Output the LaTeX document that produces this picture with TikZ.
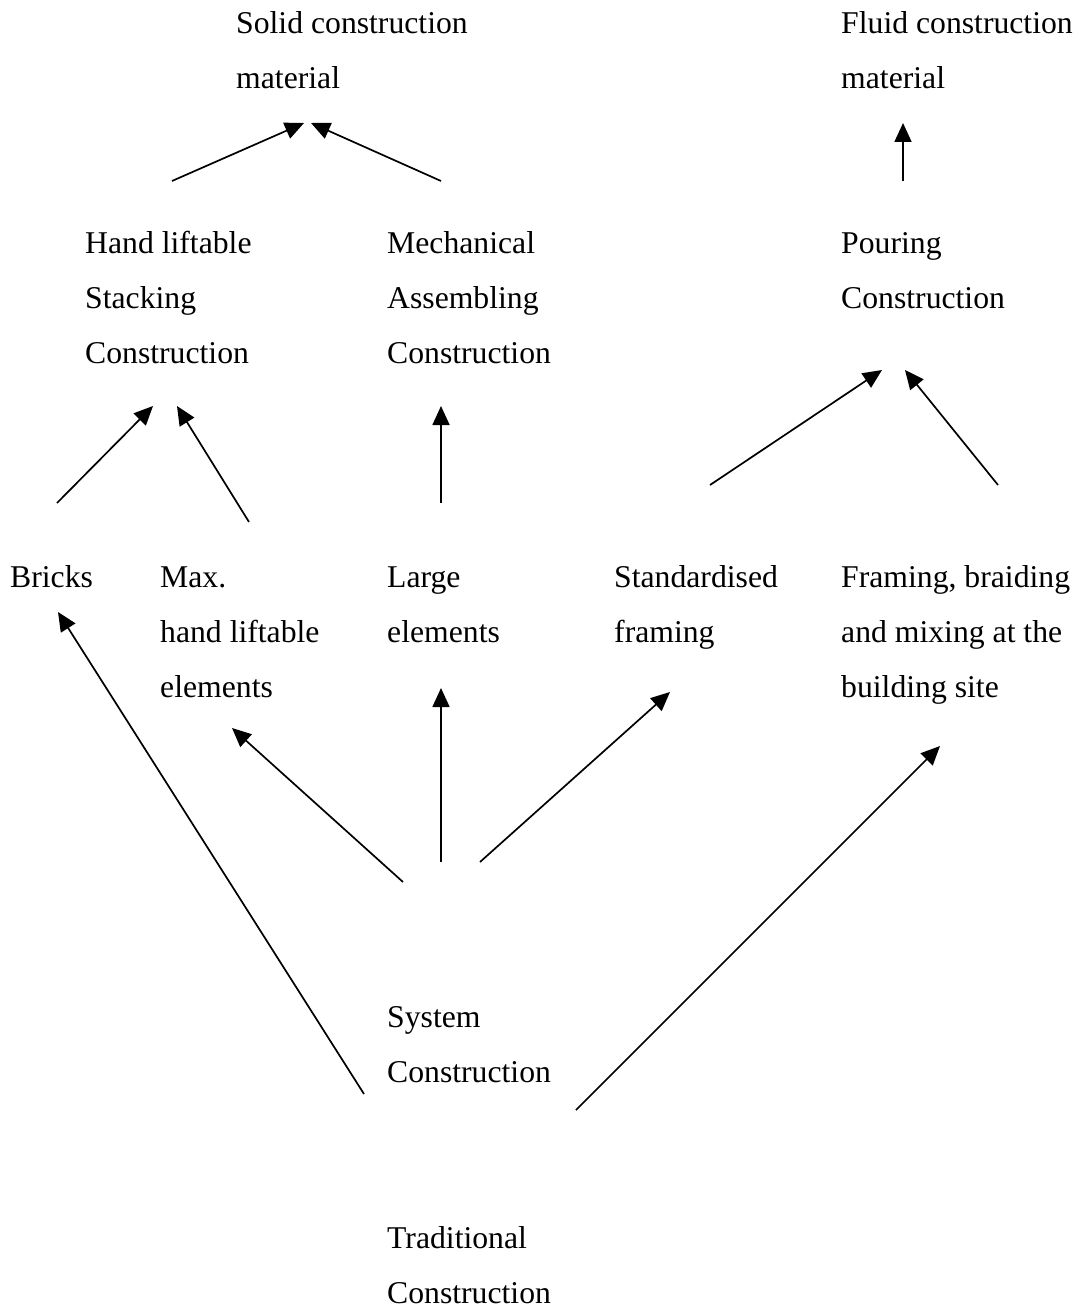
\documentclass[tikz,border=0pt]{standalone}
\usepackage{fontspec}
\setmainfont{Liberation Serif}
\usetikzlibrary{arrows.meta}
\begin{document}
\begin{tikzpicture}[x=1pt,y=-1pt,
  lbl/.style={align=left,anchor=base west,inner sep=0pt,font=\fontsize{31.7}{55}\selectfont},
  arr/.style={line width=1.7pt,-{Triangle[length=19pt,width=17pt]}}]
\useasboundingbox (0,0) rectangle (1076,1308);
% anchor = baseline of the last line
\node[lbl] (solid) at (236,89) {Solid construction\\material};
\node[lbl] (fluid) at (841,89) {Fluid construction\\material};
\node[lbl] (hand) at (85,363) {Hand liftable\\Stacking\\Construction};
\node[lbl] (mech) at (387,363) {Mechanical\\Assembling\\Construction};
\node[lbl] (pour) at (841,308) {Pouring\\Construction};
\node[lbl] (bricks) at (10,587) {Bricks};
\node[lbl] (max) at (160,697) {Max.\\hand liftable\\elements};
\node[lbl] (large) at (387,642) {Large\\elements};
\node[lbl] (std) at (614,642) {Standardised\\framing};
\node[lbl] (frame) at (841,697) {Framing, braiding\\and mixing at the\\building site};
\node[lbl] (sys) at (387,1082) {System\\Construction};
\node[lbl] (trad) at (387,1303) {Traditional\\Construction};
% arrow end points
\coordinate (a1s) at (172,181); \coordinate (a1e) at (304,123);
\coordinate (a2s) at (441,181); \coordinate (a2e) at (311,123);
\coordinate (a3s) at (903,181); \coordinate (a3e) at (903,123);
\coordinate (a4s) at (57,503);  \coordinate (a4e) at (153,406);
\coordinate (a5s) at (249,522); \coordinate (a5e) at (177,406);
\coordinate (a6s) at (441,503); \coordinate (a6e) at (441,406);
\coordinate (a7s) at (710,485); \coordinate (a7e) at (882,370);
\coordinate (a8s) at (998,485); \coordinate (a8e) at (905,370);
\coordinate (a9s) at (403,882); \coordinate (a9e) at (232,728);
\coordinate (a10s) at (441,862); \coordinate (a10e) at (441,688);
\coordinate (a11s) at (480,862); \coordinate (a11e) at (670,692);
\coordinate (a12s) at (364,1094); \coordinate (a12e) at (58,612);
\coordinate (a13s) at (576,1110); \coordinate (a13e) at (940,746);
\foreach \i in {1,...,13} {\draw[arr] (a\i s) -- (a\i e);}
\end{tikzpicture}
\end{document}
